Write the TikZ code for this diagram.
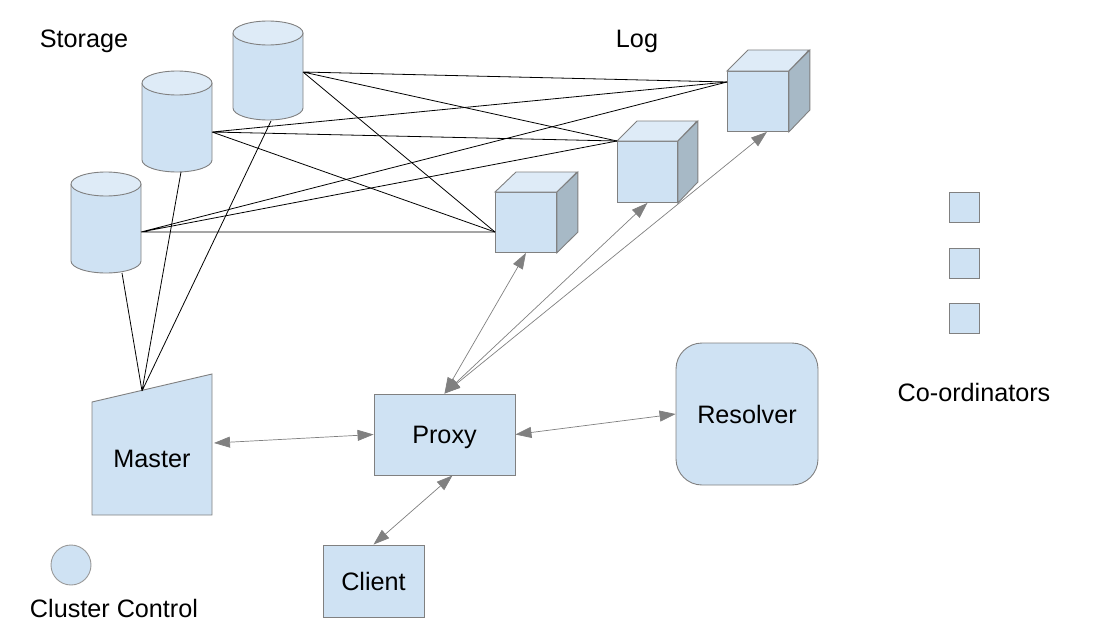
\documentclass[tikz,border=0pt]{standalone}
\usepackage{fontspec}
\setmainfont{Liberation Sans}
\usetikzlibrary{arrows.meta}

\definecolor{partblue}{HTML}{CFE2F3}
\definecolor{lidblue}{HTML}{DEEBF7}
\definecolor{sideblue}{HTML}{A7B9C6}
\definecolor{rimgray}{HTML}{808080}

\tikzset{
  part/.style={draw=rimgray, fill=partblue, line width=0.9pt, inner sep=0pt,
    text height=18pt, text depth=0pt},
  lid/.style={draw=rimgray, fill=lidblue, line width=0.9pt},
  side/.style={draw=rimgray, fill=sideblue, line width=0.9pt},
  wire/.style={black, line width=0.8pt},
  msg/.style={rimgray, line width=0.7pt,
    {Triangle[length=16pt,width=11pt]}-{Triangle[length=16pt,width=11pt]}}
}

\begin{document}
\begin{tikzpicture}[x=1pt,y=-1pt,font=\fontsize{25.2}{30}\selectfont]
  \useasboundingbox (0,0) rectangle (1113,626);

  % storage
  \draw[part] (233,33)--(233,108) arc (180:0:35 and 12)--(303,33);
  \draw[lid] (268,33) ellipse (35 and 12);
  \draw[part] (142,83)--(142,160) arc (180:0:35 and 12)--(212,83);
  \draw[lid] (177,83) ellipse (35 and 12);
  \draw[part] (71,184)--(71,261) arc (180:0:35 and 12)--(141,184);
  \draw[lid] (106,184) ellipse (35 and 12);
  \coordinate (s1r) at (303,72);
  \coordinate (s2r) at (212,132);
  \coordinate (s3r) at (141,232);
  \coordinate (s1b) at (271,121);
  \coordinate (s2b) at (181,172);
  \coordinate (s3b) at (122,273);

  % log
  \node[part, minimum width=61, minimum height=60, anchor=north west] (l1) at (495,192) {};
  \draw[lid] (l1.north west)--++(21,-20)--++(61,0)--(l1.north east)--cycle;
  \draw[side] (l1.north east)--++(21,-20)--++(0,60)--(l1.south east)--cycle;
  \node[part, minimum width=60, minimum height=61, anchor=north west] (l2) at (617,141) {};
  \draw[lid] (l2.north west)--++(20,-20)--++(60,0)--(l2.north east)--cycle;
  \draw[side] (l2.north east)--++(20,-20)--++(0,61)--(l2.south east)--cycle;
  \node[part, minimum width=61, minimum height=60, anchor=north west] (l3) at (727,71) {};
  \draw[lid] (l3.north west)--++(21,-21)--++(61,0)--(l3.north east)--cycle;
  \draw[side] (l3.north east)--++(21,-21)--++(0,60)--(l3.south east)--cycle;
  \coordinate (l1in) at (495,232);
  \coordinate (l2in) at (617,141);
  \coordinate (l3in) at (727,82);

  % master
  \draw[part] (92,515)--(92,402)--(212,374)--(212,515)--cycle;
  \node[inner sep=0pt, outer sep=2pt, minimum width=120, minimum height=114,
    text height=18pt, text depth=0pt] (master) at (152,458) {Master};
  \coordinate (mtop) at (142,391);

  \draw[wire] (s1r)--(l1in) (s1r)--(l2in) (s1r)--(l3in);
  \draw[wire] (s2r)--(l1in) (s2r)--(l2in) (s2r)--(l3in);
  \draw[wire] (s3r)--(l1in) (s3r)--(l2in) (s3r)--(l3in);
  \draw[wire] (s1b)--(mtop) (s2b)--(mtop) (s3b)--(mtop);

  \node[part, minimum width=141, minimum height=81] (proxy) at (444.5,434.5) {Proxy};
  \node[part, rounded corners=26pt, minimum width=142, minimum height=142] (resolver) at (747,414) {Resolver};
  \node[part, minimum width=101, minimum height=72] (client) at (373.5,581) {Client};
  \node[part, circle, minimum size=40, draw=rimgray!80] (cluster) at (71,565) {};
  \node[part, minimum size=30] (co1) at (964,207) {};
  \node[part, minimum size=30] (co2) at (964,263) {};
  \node[part, minimum size=30] (co3) at (964,318) {};

  \draw[msg] ([yshift=15pt]master.east)--(proxy.west);
  \draw[msg] (proxy.north)--(l1.south);
  \draw[msg] (proxy.north)--(l2.south);
  \draw[msg] (proxy.north)--([xshift=9pt]l3.south);
  \draw[msg] (proxy.east)--(resolver.west);
  \draw[msg] ([xshift=8pt]proxy.south)--(client.north);

  \node[anchor=base] (storagetxt) at (84,48) {Storage};
  \node[anchor=base] (logtxt) at (637,48) {Log};
  \node[anchor=base] (coordtxt) at (974,401) {Co-ordinators};
  \node[anchor=base] (clustertxt) at (114,617) {Cluster Control};
\end{tikzpicture}
\end{document}
